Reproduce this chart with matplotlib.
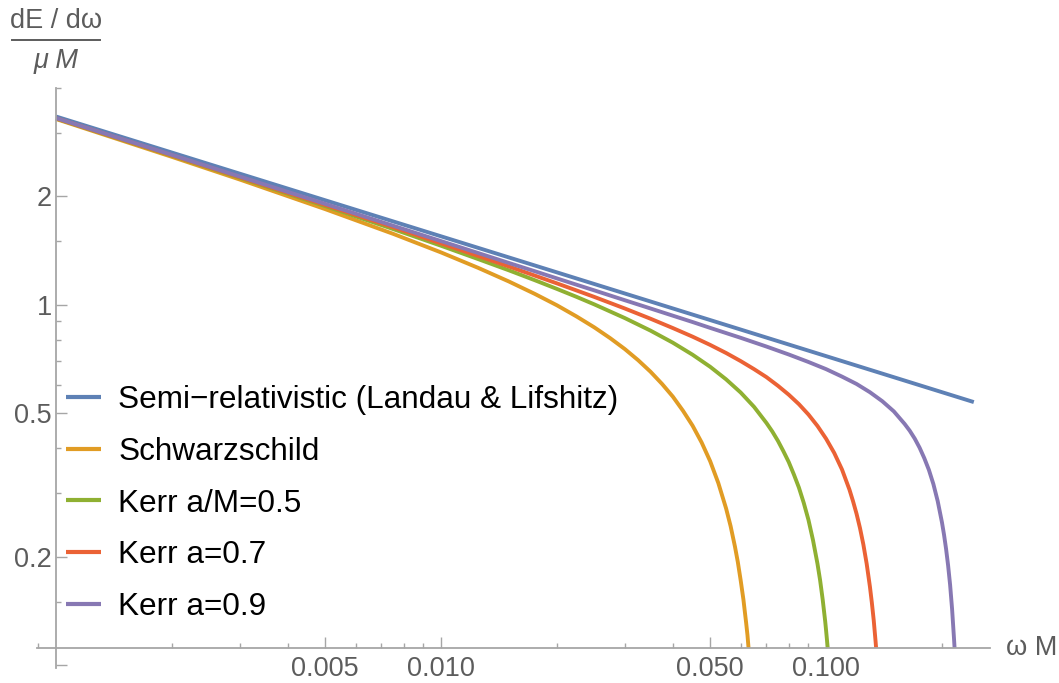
import numpy as np
import matplotlib.pyplot as plt
from matplotlib.lines import Line2D
from matplotlib.ticker import FixedLocator, FixedFormatter, NullFormatter

plt.rcParams['font.family'] = ['Liberation Sans', 'DejaVu Sans']

# Landau & Lifshitz (Newtonian) spectrum: straight line in log-log
omega_ll = [0.001, 0.242]
de_ll = [3.333, 0.537]

# Schwarzschild
omega_s = [0.001, 0.002, 0.003, 0.005, 0.0075, 0.01, 0.0125, 0.015, 0.0175, 0.02,
           0.0225, 0.025, 0.0275, 0.03, 0.0325, 0.035, 0.0375, 0.04, 0.0425, 0.045,
           0.0475, 0.05, 0.0525, 0.055, 0.0565, 0.058, 0.059, 0.06, 0.061, 0.0615,
           0.062, 0.0625, 0.0629]
de_s = [3.280, 2.575, 2.228, 1.844, 1.575, 1.398, 1.266, 1.161, 1.073, 0.997,
        0.928, 0.866, 0.808, 0.754, 0.702, 0.652, 0.603, 0.556, 0.508, 0.462,
        0.415, 0.368, 0.320, 0.272, 0.243, 0.213, 0.193, 0.172, 0.152, 0.141,
        0.131, 0.121, 0.1115]

# Kerr a/M = 0.5
omega_k5 = [0.001, 0.002, 0.003, 0.005, 0.0075, 0.01, 0.0125, 0.015, 0.0175, 0.02,
            0.0225, 0.025, 0.03, 0.035, 0.04, 0.045, 0.05, 0.055, 0.06, 0.065,
            0.07, 0.0725, 0.075, 0.0775, 0.08, 0.0825, 0.085, 0.0875, 0.09, 0.0925,
            0.095, 0.0965, 0.098, 0.0995, 0.1, 0.1005, 0.101]
de_k5 = [3.291, 2.594, 2.252, 1.880, 1.624, 1.459, 1.339, 1.247, 1.171, 1.107,
         1.052, 1.003, 0.919, 0.848, 0.785, 0.727, 0.673, 0.621, 0.571, 0.521,
         0.470, 0.445, 0.419, 0.392, 0.366, 0.338, 0.311, 0.282, 0.253, 0.222,
         0.191, 0.172, 0.152, 0.132, 0.125, 0.118, 0.1115]

# Kerr a = 0.7
omega_k7 = [0.001, 0.002, 0.003, 0.005, 0.0075, 0.01, 0.0125, 0.015, 0.0175, 0.02,
            0.0225, 0.025, 0.03, 0.035, 0.04, 0.045, 0.05, 0.055, 0.06, 0.065,
            0.07, 0.075, 0.08, 0.085, 0.09, 0.095, 0.1, 0.105, 0.11, 0.115,
            0.1175, 0.12, 0.1225, 0.125, 0.1275, 0.13, 0.1315, 0.133, 0.1345, 0.1349]
de_k7 = [3.296, 2.601, 2.262, 1.894, 1.644, 1.481, 1.366, 1.278, 1.206, 1.147,
         1.096, 1.052, 0.977, 0.915, 0.862, 0.816, 0.774, 0.735, 0.698, 0.663,
         0.630, 0.596, 0.563, 0.530, 0.496, 0.461, 0.425, 0.388, 0.349, 0.307,
         0.285, 0.263, 0.240, 0.216, 0.191, 0.165, 0.149, 0.133, 0.116, 0.1115]

# Kerr a = 0.9
omega_k9 = [0.001, 0.002, 0.003, 0.005, 0.0075, 0.01, 0.0125, 0.015, 0.0175, 0.02,
            0.0225, 0.025, 0.03, 0.035, 0.04, 0.045, 0.05, 0.06, 0.07, 0.08,
            0.09, 0.1, 0.11, 0.12, 0.13, 0.14, 0.15, 0.16, 0.165, 0.17,
            0.175, 0.18, 0.185, 0.19, 0.195, 0.2, 0.2025, 0.205, 0.2075, 0.21,
            0.2125, 0.215, 0.2157]
de_k9 = [3.300, 2.608, 2.271, 1.907, 1.659, 1.503, 1.392, 1.307, 1.240, 1.184,
         1.137, 1.097, 1.030, 0.977, 0.933, 0.896, 0.863, 0.810, 0.766, 0.728,
         0.694, 0.663, 0.632, 0.603, 0.572, 0.540, 0.506, 0.467, 0.447, 0.425,
         0.401, 0.375, 0.348, 0.318, 0.285, 0.249, 0.230, 0.210, 0.189, 0.167,
         0.143, 0.118, 0.1115]

labels = ['Semi\u2212relativistic (Landau & Lifshitz)', 'Schwarzschild',
          'Kerr a/M=0.5', 'Kerr a=0.7', 'Kerr a=0.9']
colors = ['#5e81b5', '#e19c24', '#8fb032', '#eb6235', '#8778b3']

x_ticks = [0.005, 0.01, 0.05, 0.1]
x_ticklabels = ['0.005', '0.010', '0.050', '0.100']
x_minor = [0.0009, 0.002, 0.003, 0.004, 0.006, 0.007, 0.008, 0.009,
           0.02, 0.03, 0.04, 0.06, 0.07, 0.08, 0.09, 0.2]
y_ticks = [0.1, 0.2, 0.5, 1, 2]
y_ticklabels = ['', '0.2', '0.5', '1', '2']
y_minor = [0.15, 0.3, 0.4, 0.6, 0.7, 0.8, 0.9, 1.5, 3, 4]

W, H = 1059, 683
fig = plt.figure(figsize=(W / 100, H / 100), dpi=100)
ax = fig.add_axes([37 / W, 15 / H, (989.5 - 37) / W, (595 - 15) / H])
ax.set_xscale('log')
ax.set_yscale('log')
ax.set_xlim(0.000892, 0.2658)
ax.set_ylim(0.0981, 4.0)

series = [(omega_ll, de_ll), (omega_s, de_s), (omega_k5, de_k5),
          (omega_k7, de_k7), (omega_k9, de_k9)]
for (xs, ys), c, lab in zip(series, colors, labels):
    ax.plot(xs, ys, color=c, lw=2.8, label=lab, solid_capstyle='butt',
            solid_joinstyle='round')

axis_gray = '#a6a6a6'
text_gray = '#5c5c5c'
for side in ['top', 'right']:
    ax.spines[side].set_visible(False)
ax.spines['left'].set_position(('data', 0.001))
ax.spines['bottom'].set_position(('data', 0.1115))
for side in ['left', 'bottom']:
    ax.spines[side].set_color(axis_gray)
    ax.spines[side].set_linewidth(1.3)

ax.xaxis.set_major_locator(FixedLocator(x_ticks))
ax.xaxis.set_major_formatter(FixedFormatter(x_ticklabels))
ax.xaxis.set_minor_locator(FixedLocator(x_minor))
ax.xaxis.set_minor_formatter(NullFormatter())
ax.yaxis.set_major_locator(FixedLocator(y_ticks))
ax.yaxis.set_major_formatter(FixedFormatter(y_ticklabels))
ax.yaxis.set_minor_locator(FixedLocator(y_minor))
ax.yaxis.set_minor_formatter(NullFormatter())

ax.tick_params(which='both', direction='in', color=axis_gray, width=1.0,
               labelcolor=text_gray, labelsize=19.5)
ax.tick_params(which='major', length=8)
ax.tick_params(which='minor', length=3.5)
ax.tick_params(axis='x', pad=6)
ax.tick_params(axis='y', pad=3)

leg = ax.legend(loc='upper left', bbox_to_anchor=(66 / W, 1 - 385 / H),
                bbox_transform=fig.transFigure, frameon=False, fontsize=22.7,
                handlelength=1.11, handletextpad=0.54, labelspacing=0.69,
                borderpad=0, borderaxespad=0)
for line in leg.get_lines():
    line.set_linewidth(3.0)

# axis labels
fig.text(1006 / W, 1 - 648 / H, '\u03c9 M', ha='left', va='center',
         fontsize=19.5, color=text_gray)
fig.text(56 / W, 1 - 21 / H, 'dE / d\u03c9', ha='center', va='center',
         fontsize=19.5, color=text_gray)
fig.text(56 / W, 1 - 61 / H, '\u03bc M', ha='center', va='center',
         fontsize=19.5, color=text_gray, style='italic')
fig.add_artist(Line2D([12 / W, 100 / W], [1 - 39.5 / H, 1 - 39.5 / H],
                      transform=fig.transFigure, color=text_gray, lw=1.4))

fig.savefig('out.png', dpi=100)
